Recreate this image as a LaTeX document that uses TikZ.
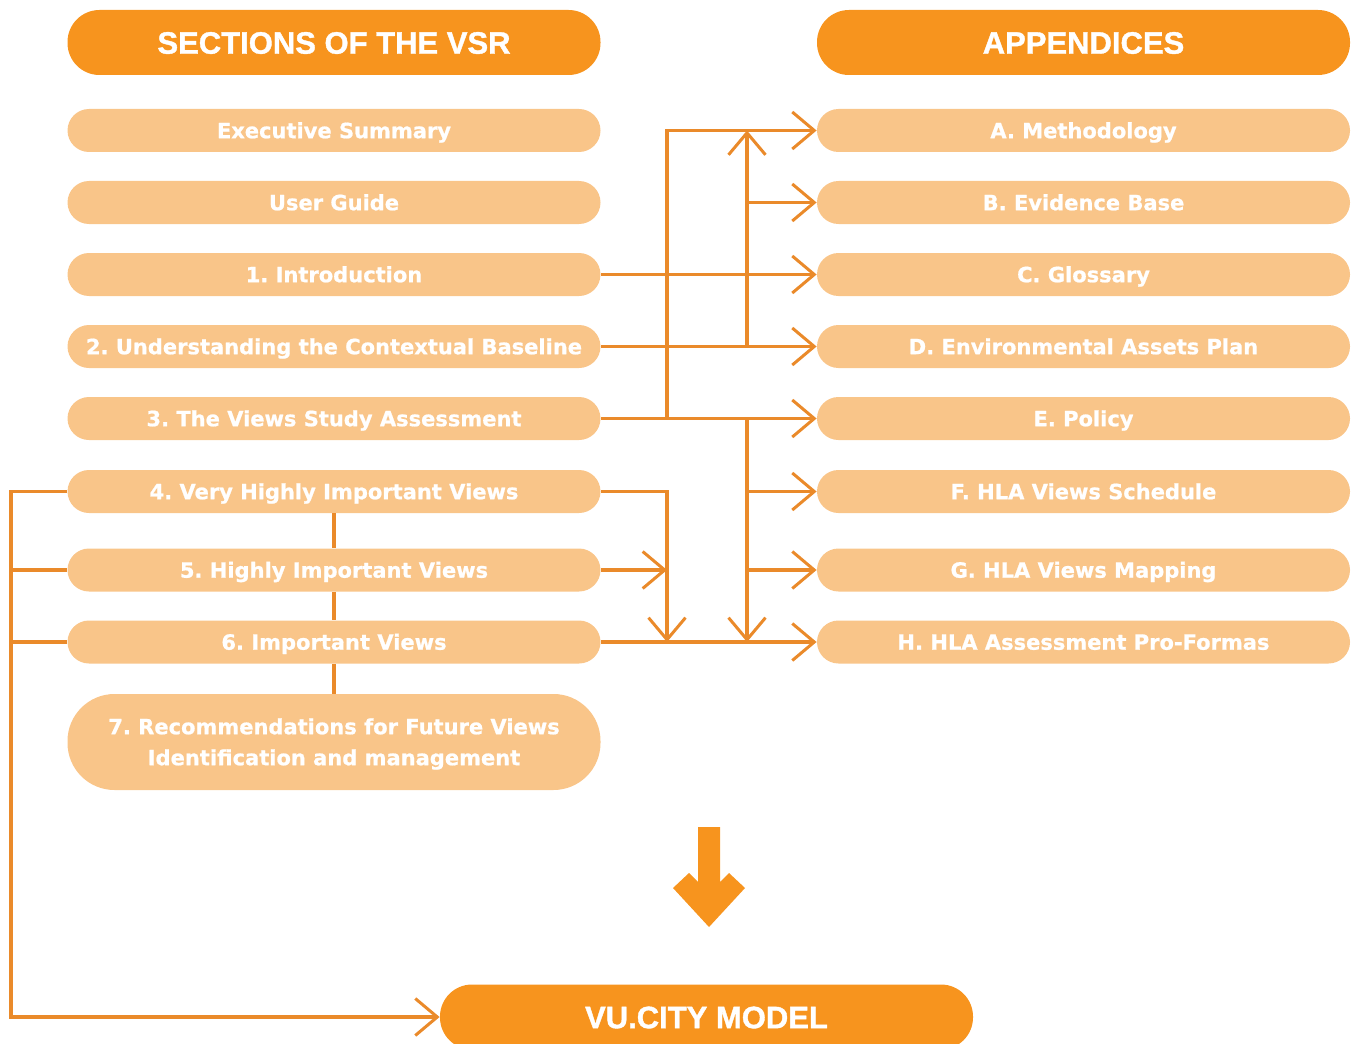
\documentclass[tikz,border=0pt]{standalone}
\usepackage{fontspec}
\setmainfont{DejaVu Sans}
\newfontfamily\boxfont[UprightFont=* Bold, FakeBold=0.9]{DejaVu Sans}
\newfontfamily\headfont[UprightFont=* Bold, FakeBold=1.2]{Liberation Sans}
\usetikzlibrary{arrows.meta,positioning}

\definecolor{vsrorange}{RGB}{247,148,30}
\definecolor{vsrlight}{RGB}{249,197,137}
\definecolor{vsrline}{RGB}{234,138,42}

\begin{document}
\frenchspacing
\begin{tikzpicture}[x=0.5pt,y=-0.5pt]
\tikzstyle{every node}+=[inner sep=0pt]
\tikzstyle{vsrhead}=[fill=vsrorange, rounded corners=16pt, minimum width=266.5pt, minimum height=32.5pt, text height=11.2pt, text depth=0pt, text=white, font=\headfont\fontsize{15.5}{17}\selectfont]
\tikzstyle{vsrbox}=[fill=vsrlight, rounded corners=10.75pt, minimum width=266.5pt, minimum height=21.5pt, text height=7.7pt, text depth=0pt, text=white, font=\boxfont\fontsize{10.5}{15.5}\selectfont]
\tikzstyle{link}=[draw=vsrline, line width=1.6pt, line join=miter]
\tikzstyle{tip}=[-{Straight Barb[length=11pt, width=18.5pt, line width=1.5pt]}]
\useasboundingbox (0,0) rectangle (1352,1043);
% headers
\node [vsrhead] (hs) at (334,42.5) {SECTIONS OF THE VSR};
\node [vsrhead] (ha) at (1083.5,42.5) {APPENDICES};
% sections of the vsr
\node [vsrbox] (sx) at (334,130.5) {Executive Summary};
\node [vsrbox] (su) at (334,202.5) {User Guide};
\node [vsrbox] (s1) at (334,274.5) {1. Introduction};
\node [vsrbox] (s2) at (334,346.5) {2. Understanding the Contextual Baseline};
\node [vsrbox] (s3) at (334,418.5) {3. The Views Study Assessment};
\node [vsrbox] (s4) at (334,491.5) {4. Very Highly Important Views};
\node [vsrbox] (s5) at (334,570) {5. Highly Important Views};
\node [vsrbox] (s6) at (334,642) {6. Important Views};
\node [vsrbox, rounded corners=23.5pt, minimum height=48pt, text height=23.2pt, align=center] (s7) at (334,742) {7. Recommendations for Future Views\\Identification and management};
% appendices
\node [vsrbox] (aA) at (1083.5,130.5) {A. Methodology};
\node [vsrbox] (aB) at (1083.5,202.5) {B. Evidence Base};
\node [vsrbox] (aC) at (1083.5,274.5) {C. Glossary};
\node [vsrbox] (aD) at (1083.5,346.5) {D. Environmental Assets Plan};
\node [vsrbox] (aE) at (1083.5,418.5) {E. Policy};
\node [vsrbox] (aF) at (1083.5,491.5) {F. HLA Views Schedule};
\node [vsrbox] (aG) at (1083.5,570) {G. HLA Views Mapping};
\node [vsrbox] (aH) at (1083.5,642) {H. HLA Assessment Pro-Formas};
% model
\node [vsrhead] (vu) at (706.5,1017) {VU.CITY MODEL};
% junction columns
\coordinate (ja) at (667,0);
\coordinate (jb) at (747,0);
\coordinate (jl) at (11,0);
% links to the appendices
\draw [link,tip] (s1.east) -- (aC.west);
\draw [link,tip] (s2.east) -- (aD.west);
\draw [link,tip] (s3.east) -- (aE.west);
\draw [link,tip] (s6.east) -- (aH.west);
\draw [link,tip] (s3.east -| ja) -- (ja |- aA.west) -- (aA.west);
\draw [link,tip] (jb |- s2.east) -- (jb |- aA.west);
\draw [link,tip] (jb |- aB.west) -- (aB.west);
\draw [link,tip] (jb |- s3.east) -- (jb |- aH.west);
\draw [link,tip] (jb |- aF.west) -- (aF.west);
\draw [link,tip] (jb |- aG.west) -- (aG.west);
\draw [link,tip] (s4.east) -| (ja |- aH.west);
\draw [link,tip] (s5.east) -- (ja |- s5.east);
% views chain
\draw [link] (s4.south) -- (s5.north);
\draw [link] (s5.south) -- (s6.north);
\draw [link] (s6.south) -- (s7.north);
% links to the model
\draw [link,tip] (s4.west) -| (jl |- vu.west) -- (vu.west);
\draw [link] (jl |- s5.west) -- (s5.west);
\draw [link] (jl |- s6.west) -- (s6.west);
% big arrow
\fill [vsrorange] (698,827) -- (720,827) -- (720,882) -- (729,873) -- (745,888) -- (709,927) -- (673,888) -- (689,873) -- (698,882) -- cycle;
\end{tikzpicture}
\end{document}
